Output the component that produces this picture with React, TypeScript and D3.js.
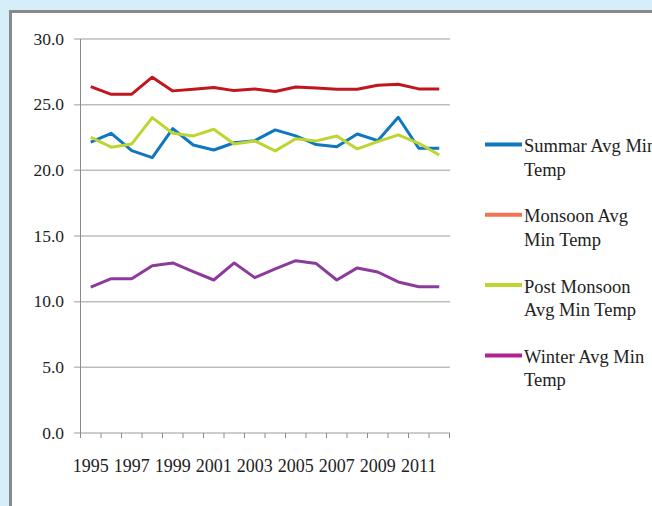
import React from "react";
import * as d3 from "d3";

const years = d3.range(1995, 2013).map(String);
const tickLabels = ["1995", "1997", "1999", "2001", "2003", "2005", "2007", "2009", "2011"];
const yTicks = [0, 5, 10, 15, 20, 25, 30];

const summer = [22.14, 22.82, 21.5, 20.97, 23.18, 21.93, 21.55, 22.1, 22.26, 23.08, 22.62, 21.96, 21.8, 22.77, 22.26, 24.04, 21.68, 21.68];
const monsoon = [26.37, 25.79, 25.8, 27.09, 26.05, 26.17, 26.3, 26.07, 26.2, 26.0, 26.35, 26.27, 26.17, 26.17, 26.48, 26.55, 26.2, 26.2];
const postMonsoon = [22.52, 21.76, 22.01, 24.01, 22.82, 22.62, 23.13, 22.01, 22.24, 21.48, 22.41, 22.24, 22.62, 21.63, 22.19, 22.7, 22.06, 21.17];
const winter = [11.1, 11.75, 11.75, 12.74, 12.95, 12.29, 11.65, 12.95, 11.83, 12.49, 13.12, 12.9, 11.65, 12.57, 12.26, 11.5, 11.14, 11.14];

const seriesNames = [["Summar Avg Min", "Temp"], ["Monsoon Avg", "Min Temp"], ["Post Monsoon", "Avg Min Temp"], ["Winter Avg Min", "Temp"]];
const seriesValues = [summer, monsoon, postMonsoon, winter];
const lineColors = ["#0F77BF", "#C0161E", "#BED531", "#8C3B9C"];
const legendColors = ["#0F77BF", "#F47355", "#BED531", "#B2228F"];

export default function App() {
  const W = 652, H = 506;
  const x = d3.scaleBand().domain(years).range([80.5, 449.5]);
  const y = d3.scaleLinear().domain([0, 30]).range([433, 39]);
  const line = d3.line<number>().x((_, i) => (x(years[i]) as number) + x.bandwidth() / 2).y((d) => y(d));
  const font = "'Liberation Serif', 'Times New Roman', serif";
  const tickXs = years.map((yr) => x(yr) as number).concat([x.range()[1]]);
  return (
    <svg width={W} height={H} style={{ position: "absolute", left: 0, top: 0 }} fontFamily={font}>
      <rect x={0} y={0} width={W} height={H} fill="#D5EEF9" />
      <rect x={10.5} y={11.5} width={W} height={H} fill="#FFFFFF" stroke="#8A8A8A" strokeWidth={3} />
      {yTicks.map((t) => (
        <g key={t}>
          <line x1={74} x2={450} y1={y(t)} y2={y(t)} stroke={t === 0 ? "#9A9A9A" : "#BDBDBD"} strokeWidth={t === 0 ? 1 : 1.5} />
          <text x={64} y={y(t) + 5.5} textAnchor="end" fontSize={17.5} fill="#222">{t.toFixed(1)}</text>
        </g>
      ))}
      <line x1={80.5} x2={80.5} y1={39} y2={433} stroke="#8A8A8A" strokeWidth={1} />
      {tickXs.map((tx, i) => (
        <line key={i} x1={tx} x2={tx} y1={433} y2={438} stroke="#8A8A8A" strokeWidth={1} />
      ))}
      {tickLabels.map((lab) => (
        <text key={lab} x={(x(lab) as number) + x.bandwidth() / 2} y={472} textAnchor="middle" fontSize={18} fill="#222">{lab}</text>
      ))}
      {seriesValues.map((vals, i) => (
        <path key={i} d={line(vals) || ""} fill="none" stroke={lineColors[i]} strokeWidth={3} strokeLinejoin="round" />
      ))}
      {seriesNames.map((nm, i) => {
        const ly = 144.5 + i * 70.3;
        return (
          <g key={i}>
            <line x1={485} x2={522} y1={ly} y2={ly} stroke={legendColors[i]} strokeWidth={4} />
            <text x={524} y={ly + 7.5} fontSize={18.5} fill="#222">{nm[0]}</text>
            <text x={524} y={ly + 31} fontSize={18.5} fill="#222">{nm[1]}</text>
          </g>
        );
      })}
    </svg>
  );
}
